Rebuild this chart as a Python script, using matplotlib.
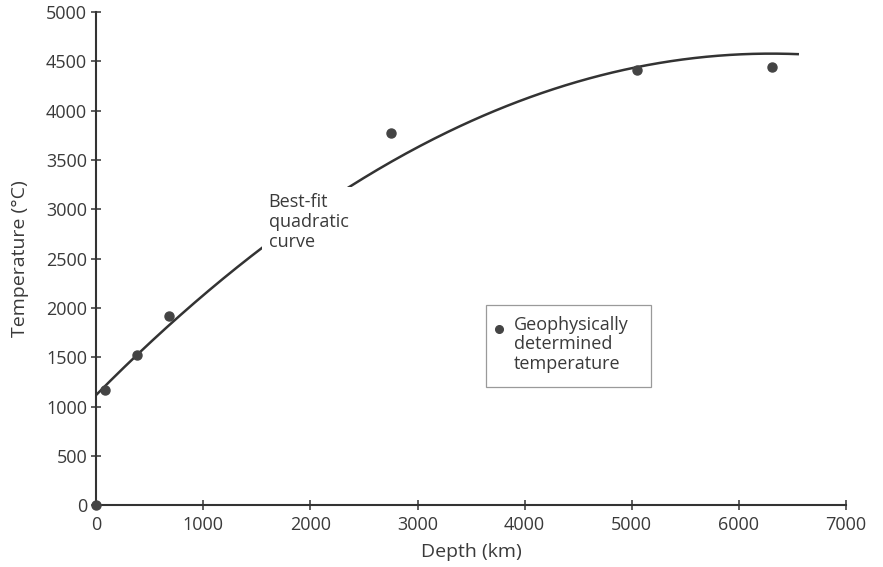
import numpy as np
import matplotlib.pyplot as plt
from matplotlib.patches import Rectangle

plt.rcParams['font.family'] = ['Open Sans', 'DejaVu Sans']

#---- data ----
depth_km = [0, 80, 380, 680, 2750, 5050, 6310]
temp_C   = [0, 1170, 1520, 1920, 3770, 4410, 4440]

# best-fit quadratic: T = c0 + c1*d + c2*d^2, drawn up to 6550 km
quad_coef  = [-8.71e-5, 1.0978, 1118.0]
curve_stop = 6550

x_ticks = [0, 1000, 2000, 3000, 4000, 5000, 6000, 7000]
y_ticks = [0, 500, 1000, 1500, 2000, 2500, 3000, 3500, 4000, 4500, 5000]

ink  = "#333333"
text = "#3a3a3a"
fs   = 13

#---- figure ----
fig = plt.figure(figsize=(8.83, 5.67), dpi=100)
ax  = fig.add_axes([0.109, 0.109, 0.849, 0.870])

d_vec = np.linspace(0, curve_stop, 300)
ax.plot(d_vec, np.polyval(quad_coef, d_vec), color=ink, lw=1.8, zorder=2)
ax.plot(depth_km, temp_C, "o", color="#444444", ms=6.5, zorder=3, clip_on=False)

# curve label sits on a white patch that breaks the line
ax.text(1610, 3160, "Best-fit\nquadratic\ncurve", ha="left", va="top",
        fontsize=fs, color=text, linespacing=1.12, zorder=4,
        bbox=dict(boxstyle="square,pad=0.35", fc="white", ec="none"))

# key box
ax.add_patch(Rectangle((3640, 1200), 1540, 830, fill=False, ec="#9a9a9a", lw=0.9, zorder=4))
ax.plot([3760], [1790], "o", color="#444444", ms=5.5, zorder=5)
ax.text(3900, 1920, "Geophysically\ndetermined\ntemperature", ha="left", va="top",
        fontsize=fs, color=text, linespacing=1.1, zorder=5)

#---- axes ----
ax.set_xlim(0, 7000)
ax.set_ylim(0, 5000)
ax.set_xticks(x_ticks)
ax.set_yticks(y_ticks)
for side in ["top", "right"]:
  ax.spines[side].set_visible(False)
for side in ["left", "bottom"]:
  ax.spines[side].set_color(ink)
  ax.spines[side].set_linewidth(1.5)
ax.tick_params(direction="inout", length=7, width=1.1, color=ink,
               labelsize=fs, labelcolor=text)
ax.tick_params(axis="y", pad=3)
ax.tick_params(axis="x", pad=4)
ax.set_xlabel("Depth (km)", fontsize=14, color=text, labelpad=7)
ax.set_ylabel("Temperature (°C)", fontsize=14, color=text, labelpad=12)

fig.savefig("out.png", dpi=100)
